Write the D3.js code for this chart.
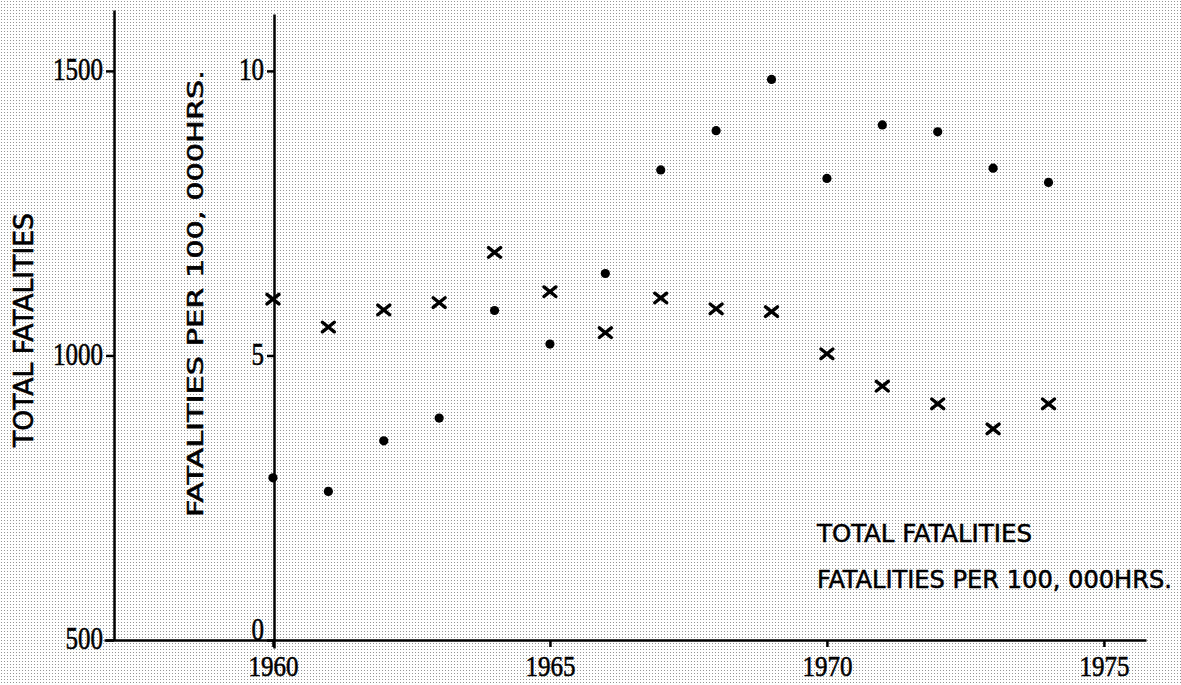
<!DOCTYPE html>
<html>
<head>
<meta charset="utf-8">
<script src="https://cdn.jsdelivr.net/npm/d3@7"></script>
<style>
  html, body { margin: 0; padding: 0; background: #fff; }
  svg { display: block; }
</style>
</head>
<body>
<svg id="chart" width="1181" height="685"></svg>
<script>
// ---- data ----
const years = [1960, 1961, 1962, 1963, 1964, 1965, 1966, 1967, 1968, 1969, 1970, 1971, 1972, 1973, 1974];
const totalFatalities = [785, 761, 850, 890, 1079, 1020, 1144, 1326, 1395, 1485, 1311, 1405, 1393, 1329, 1304];
const ratePer100k = [5.99, 5.50, 5.80, 5.93, 6.81, 6.12, 5.40, 6.01, 5.82, 5.77, 5.03, 4.46, 4.15, 3.71, 4.15];
const yearTicks = [1960, 1965, 1970, 1975];
const totalTicks = [500, 1000, 1500];
const rateTicks = [0, 5, 10];
const legendLabels = ["TOTAL FATALITIES", "FATALITIES PER 100, 000HRS."];
const leftTitle = "TOTAL FATALITIES";
const midTitle = "FATALITIES PER 100, 000HRS.";

// ---- layout ----
const svg = d3.select("#chart");
const defs = svg.append("defs");
const pat = defs.append("pattern").attr("id", "halftone")
  .attr("width", 3).attr("height", 3).attr("patternUnits", "userSpaceOnUse");
pat.append("rect").attr("width", 3).attr("height", 3).attr("fill", "#ffffff");
pat.append("rect").attr("x", 1).attr("y", 1).attr("width", 1).attr("height", 1).attr("fill", "#949494");
svg.append("rect").attr("width", 1181).attr("height", 685).attr("fill", "url(#halftone)");

const x = d3.scaleLinear().domain([1956.95, 1975.76]).range([104, 1146]);
const yTotal = d3.scaleLinear().domain([500, 1607]).range([640, 10]);
const yRate = d3.scaleLinear().domain([-0.14, 11.0]).range([648, 14]);

const serif = "'Liberation Serif', 'DejaVu Serif', serif";
const sans = "'Liberation Sans Narrow', 'DejaVu Sans Condensed', 'Liberation Sans', sans-serif";

function styleAxis(g, fs) {
  g.selectAll("path.domain").attr("stroke", "#000").attr("stroke-width", 2.5);
  g.selectAll(".tick line").attr("stroke", "#000").attr("stroke-width", 2.5);
  g.selectAll(".tick text").attr("fill", "#000").attr("font-family", serif)
    .attr("font-size", fs).attr("stroke", "#000").attr("stroke-width", 0.6)
    .attr("lengthAdjust", "spacingAndGlyphs")
    .attr("textLength", function() { return this.textContent.length * 12.5; });
}

// bottom axis
const gx = svg.append("g").attr("transform", "translate(0,640)")
  .call(d3.axisBottom(x).tickValues(yearTicks).tickFormat(d3.format("d"))
    .tickSize(7).tickSizeOuter(0));
styleAxis(gx, 30);
gx.selectAll(".tick text").attr("y", 36).attr("dy", "0");

// left axis (total fatalities)
const gl = svg.append("g").attr("transform", "translate(114,0)")
  .call(d3.axisLeft(yTotal).tickValues(totalTicks).tickFormat(d3.format("d"))
    .tickSize(8).tickSizeOuter(0).tickPadding(3));
styleAxis(gl, 32);
gl.selectAll(".tick text").attr("dy", "0.28em");

// inner axis (rate)
const gr = svg.append("g").attr("transform", "translate(274,0)")
  .call(d3.axisLeft(yRate).tickValues(rateTicks).tickFormat(d3.format("d"))
    .tickSize(7).tickSizeOuter(0).tickPadding(3));
styleAxis(gr, 32);
gr.selectAll(".tick text").attr("dy", "0.28em");
gr.selectAll(".tick text").filter(d => d === 0).attr("dy", "-0.02em");

// axis titles
svg.append("text").text(leftTitle)
  .attr("transform", "translate(33,447) rotate(-90)")
  .attr("font-family", sans).attr("font-size", 27).attr("fill", "#000")
  .attr("stroke", "#000").attr("stroke-width", 0.6)
  .attr("textLength", 234).attr("lengthAdjust", "spacingAndGlyphs");
svg.append("text").text(midTitle)
  .attr("transform", "translate(203,517) rotate(-90)")
  .attr("font-family", sans).attr("font-size", 22).attr("fill", "#000")
  .attr("stroke", "#000").attr("stroke-width", 0.5)
  .attr("textLength", 447).attr("lengthAdjust", "spacingAndGlyphs");

// legend texts
const legendPos = [{ x: 817, y: 542, w: 215, fs: 25 }, { x: 817, y: 588, w: 355, fs: 24 }];
svg.selectAll("text.legend").data(legendLabels).join("text").attr("class", "legend")
  .text(d => d)
  .attr("x", (d, i) => legendPos[i].x).attr("y", (d, i) => legendPos[i].y)
  .attr("font-family", sans).attr("font-size", (d, i) => legendPos[i].fs).attr("fill", "#000")
  .attr("stroke", "#000").attr("stroke-width", 0.5)
  .attr("textLength", (d, i) => legendPos[i].w).attr("lengthAdjust", "spacingAndGlyphs");

// dots: total fatalities
svg.append("g").selectAll("circle").data(years).join("circle")
  .attr("cx", d => x(d)).attr("cy", (d, i) => yTotal(totalFatalities[i]))
  .attr("r", 4.6).attr("fill", "#000");

// crosses: rate per 100,000 hours
svg.append("g").selectAll("path").data(years).join("path")
  .attr("transform", (d, i) => `translate(${x(d)},${yRate(ratePer100k[i])})`)
  .attr("d", "M-6,-4.8L6,4.8M-6,4.8L6,-4.8")
  .attr("stroke", "#000").attr("stroke-width", 3.4).attr("stroke-linecap", "round")
  .attr("fill", "none");
</script>
</body>
</html>
